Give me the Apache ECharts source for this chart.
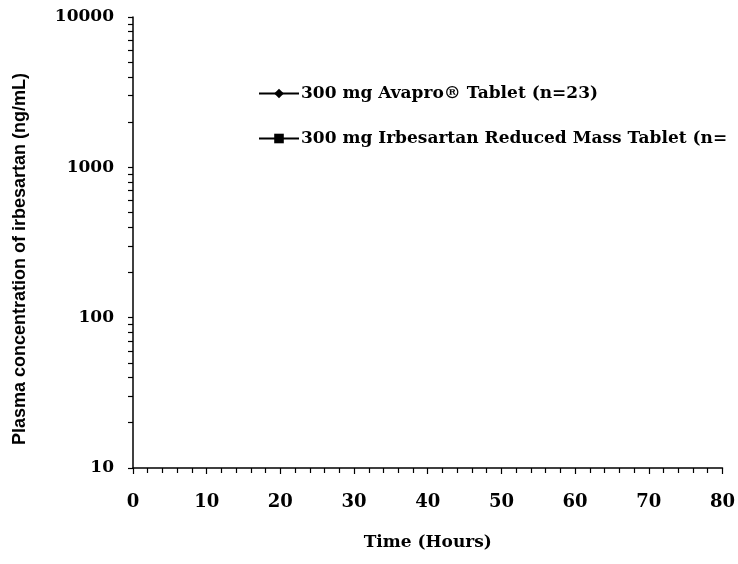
<!DOCTYPE html>
<html>
<head>
<meta charset="utf-8">
<script src="https://cdn.jsdelivr.net/npm/echarts@6/dist/echarts.min.js"></script>
<style>html,body{margin:0;padding:0;background:#fff}#c{width:738px;height:564px}</style>
</head>
<body>
<div id="c"></div>
<script>
// Series names (legend)
const seriesNames = ['300 mg Avapro\u00AE Tablet (n=23)', '300 mg Irbesartan Reduced Mass Tablet (n='];
// No plotted points are legible in the reference picture
const avaproConc = [];        // [time (h), ng/mL]
const reducedMassConc = [];   // [time (h), ng/mL]
// Axis ticks
const xTicks = [0, 10, 20, 30, 40, 50, 60, 70, 80];
const yLabelTicks = [10, 100, 1000, 10000];
const yMinorTicks = [10,20,30,40,50,60,70,80,90,100,200,300,400,500,600,700,800,900,1000,2000,3000,4000,5000,6000,7000,8000,9000,10000];
const yTitle = 'Plasma concentration of irbesartan (ng/mL)';
const xTitle = 'Time (Hours)';

const serif = '"DejaVu Serif", "Liberation Serif", serif';
const chart = echarts.init(document.getElementById('c'), null, {renderer: 'canvas'});
chart.setOption({
  animation: false,
  backgroundColor: '#fff',
  grid: {left: 133, right: 13, top: 17, bottom: 96, containLabel: false},
  legend: {
    orient: 'vertical', left: 253, top: 80, itemWidth: 40, itemHeight: 12, itemGap: 28,
    textStyle: {fontFamily: serif, fontWeight: 'bold', fontSize: 17, color: '#000', padding: [0,0,0,-3]},
    data: [seriesNames[0], seriesNames[1]]
  },
  graphic: [{
    type: 'text', x: 20, y: 259, rotation: Math.PI / 2,
    style: {text: yTitle, align: 'center', verticalAlign: 'middle',
      font: 'bold 18px "Liberation Sans", Arial, sans-serif', fill: '#000'}
  }],
  xAxis: {
    type: 'value', min: xTicks[0], max: xTicks[xTicks.length-1], interval: 10,
    name: xTitle, nameLocation: 'middle', nameGap: 66,
    nameTextStyle: {fontFamily: serif, fontWeight: 'bold', fontSize: 17, color: '#000'},
    axisLine: {lineStyle: {color: '#000', width: 1.5}},
    axisTick: {show: true, length: 6, lineStyle: {color: '#000', width: 1.2}},
    minorTick: {show: true, splitNumber: 5, length: 5, lineStyle: {color: '#000', width: 1.2}},
    axisLabel: {fontFamily: serif, fontWeight: 'bold', fontSize: 18, color: '#000', margin: 25},
    splitLine: {show: false}
  },
  yAxis: {
    type: 'log', logBase: 10, min: yLabelTicks[0], max: yLabelTicks[yLabelTicks.length-1],
    axisLine: {show: true, lineStyle: {color: '#000', width: 1.5}},
    axisTick: {show: true, length: 5, customValues: yMinorTicks, lineStyle: {color: '#000', width: 1.2}},
    axisLabel: {fontFamily: serif, fontWeight: 'bold', fontSize: 17, color: '#000', margin: 19,
      customValues: yLabelTicks, formatter: function (v) { return String(Math.round(v)); }},
    splitLine: {show: false}
  },
  series: [
    {name: seriesNames[0], type: 'line', data: avaproConc, symbol: 'diamond', symbolSize: 9,
     lineStyle: {color: '#000', width: 1.2}, itemStyle: {color: '#000'}},
    {name: seriesNames[1], type: 'line', data: reducedMassConc, symbol: 'rect', symbolSize: 9,
     lineStyle: {color: '#000', width: 2.5}, itemStyle: {color: '#000'}}
  ]
});
</script>
</body>
</html>
